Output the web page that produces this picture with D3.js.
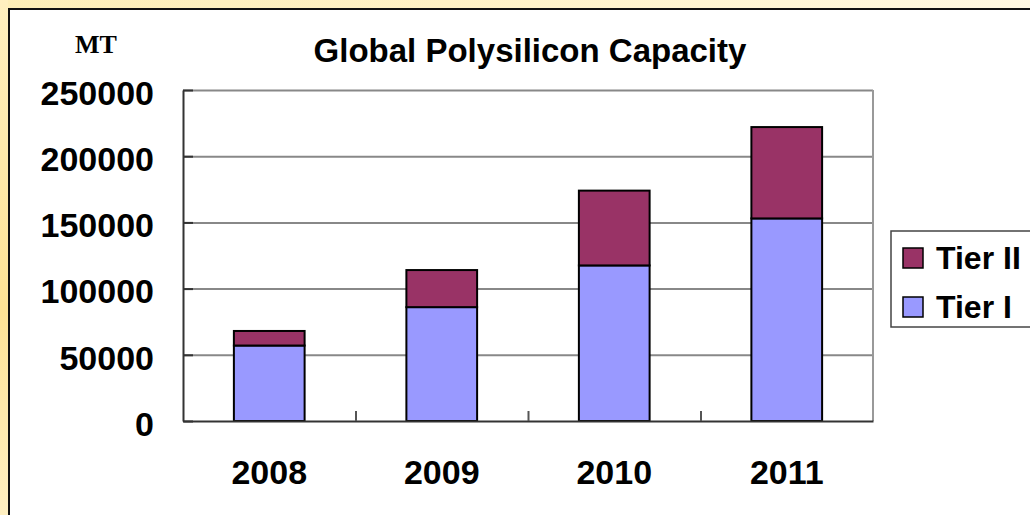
<!DOCTYPE html>
<html>
<head>
<meta charset="utf-8">
<script src="https://cdn.jsdelivr.net/npm/d3@7"></script>
<style>
  html, body { margin: 0; padding: 0; }
  body {
    width: 1030px; height: 515px; overflow: hidden;
    background: linear-gradient(100deg, #fdeeb8 0%, #fff2c6 40%, #fff6d6 70%, #fff9e6 100%);
  }
  .canvas text { font-family: "Liberation Sans", Arial, sans-serif; font-weight: bold; fill: #000; }
</style>
</head>
<body>
<div class="canvas"></div>
<script>
// data
const years = ['2008', '2009', '2010', '2011'];
const tier1 = [57000, 86000, 117500, 153000];
const tier2 = [11000, 28000, 56500, 69000];
const yTicks = [0, 50000, 100000, 150000, 200000, 250000];
const seriesNames = ['Tier I', 'Tier II'];
const seriesColors = ['#9999ff', '#993366'];

const margin = { top: 90, left: 183 };
const graphWidth = 690;
const graphHeight = 331;

const svg = d3.select('.canvas')
    .append('svg')
    .attr('width', 1030)
    .attr('height', 515);

// left edge warmer glow
const defs = svg.append('defs');
const glow = defs.append('linearGradient')
    .attr('id', 'glow')
    .attr('x1', 0).attr('y1', 0).attr('x2', 0).attr('y2', 1);
glow.append('stop').attr('offset', '0%').attr('stop-color', '#fff0c0');
glow.append('stop').attr('offset', '60%').attr('stop-color', '#fde395');
glow.append('stop').attr('offset', '100%').attr('stop-color', '#fff0c2');
svg.append('rect')
    .attr('x', 0).attr('y', 0)
    .attr('width', 8).attr('height', 515)
    .attr('fill', 'url(#glow)');

// white chart box
svg.append('rect')
    .attr('x', 9).attr('y', 9)
    .attr('width', 1040).attr('height', 530)
    .attr('fill', '#fff')
    .attr('stroke', '#111')
    .attr('stroke-width', 2);

const graph = svg.append('g')
    .attr('transform', `translate(${margin.left},${margin.top})`);

//scales
const x = d3.scaleBand().domain(years).range([0, graphWidth]).padding(0);
const xSlots = d3.scaleLinear().domain([0, years.length]).range([0, graphWidth]);
const y = d3.scaleLinear().domain([0, 250000]).range([graphHeight, 0]);

// gridlines
const grid = graph.append('g')
    .call(d3.axisLeft(y).tickValues(yTicks.slice(1)).tickSize(-graphWidth).tickFormat(''));
grid.select('.domain').remove();
grid.selectAll('line').attr('stroke', '#888').attr('stroke-width', 2);

// right border of plot
graph.append('line')
    .attr('x1', graphWidth).attr('x2', graphWidth)
    .attr('y1', 0).attr('y2', graphHeight)
    .attr('stroke', '#999').attr('stroke-width', 2);

// stacked bars
const rows = years.map((yr, i) => ({ year: yr, 'Tier I': tier1[i], 'Tier II': tier2[i] }));
const stacked = d3.stack().keys(seriesNames)(rows);
const barWidth = x.bandwidth() * 0.41;

graph.selectAll('g.series')
    .data(stacked)
    .enter().append('g')
    .attr('class', 'series')
    .attr('fill', (d, i) => seriesColors[i])
    .selectAll('rect')
    .data(d => d)
    .enter().append('rect')
    .attr('x', d => x(d.data.year) + (x.bandwidth() - barWidth) / 2)
    .attr('y', d => y(d[1]))
    .attr('width', barWidth)
    .attr('height', d => y(d[0]) - y(d[1]))
    .attr('stroke', '#000')
    .attr('stroke-width', 2);

// y axis
const yAxis = d3.axisLeft(y)
    .tickValues(yTicks)
    .tickSizeInner(-10)
    .tickSizeOuter(0)
    .tickPadding(29)
    .tickFormat(d => d);
const yAxisGroup = graph.append('g').call(yAxis);
yAxisGroup.select('.domain').attr('stroke', '#333').attr('stroke-width', 2);
yAxisGroup.selectAll('line').attr('stroke', '#333').attr('stroke-width', 2);
yAxisGroup.selectAll('text')
    .style('font-size', '34px')
    .attr('dy', '0.42em');

// x axis tick marks between categories
const xTickGroup = graph.append('g')
    .attr('transform', `translate(0,${graphHeight})`)
    .call(d3.axisBottom(xSlots).tickValues([1, 2, 3]).tickSizeInner(-10).tickSizeOuter(0).tickFormat(''));
xTickGroup.select('.domain').attr('stroke', '#333').attr('stroke-width', 2);
xTickGroup.selectAll('line').attr('stroke', '#555').attr('stroke-width', 2);

// x axis labels
const xAxisGroup = graph.append('g')
    .attr('transform', `translate(0,${graphHeight})`)
    .call(d3.axisBottom(x).tickSize(0).tickPadding(39));
xAxisGroup.select('.domain').remove();
xAxisGroup.selectAll('text').style('font-size', '34px');

// title
svg.append('text')
    .attr('x', 530).attr('y', 62)
    .attr('text-anchor', 'middle')
    .style('font-size', '33px')
    .text('Global Polysilicon Capacity');

// unit label
svg.append('text')
    .attr('x', 75).attr('y', 53)
    .style('font-family', '"Liberation Serif", "Times New Roman", serif')
    .style('font-size', '26px')
    .text('MT');

// legend
const legend = svg.append('g').attr('transform', 'translate(891,231)');
legend.append('rect')
    .attr('width', 160).attr('height', 96)
    .attr('fill', '#fff')
    .attr('stroke', '#444')
    .attr('stroke-width', 1.5);

const legendItems = legend.selectAll('g.item')
    .data(seriesNames.slice().reverse())
    .enter().append('g')
    .attr('class', 'item')
    .attr('transform', (d, i) => `translate(12,${17 + i * 49})`);
legendItems.append('rect')
    .attr('width', 20).attr('height', 20)
    .attr('fill', d => seriesColors[seriesNames.indexOf(d)])
    .attr('stroke', '#000')
    .attr('stroke-width', 1.5);
legendItems.append('text')
    .attr('x', 33).attr('y', 21)
    .style('font-size', '32px')
    .text(d => d);
</script>
</body>
</html>
